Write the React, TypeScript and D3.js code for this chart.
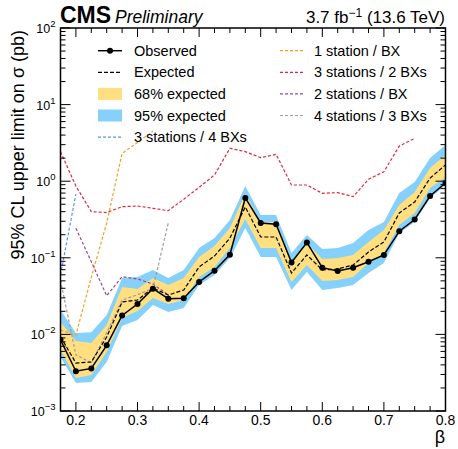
import React from "react";
import * as d3 from "d3";

const beta = [0.175, 0.2, 0.225, 0.25, 0.275, 0.3, 0.325, 0.35, 0.375, 0.4, 0.425, 0.45, 0.475, 0.5, 0.525, 0.55, 0.575, 0.6, 0.625, 0.65, 0.675, 0.7, 0.725, 0.75, 0.775, 0.8];
const observed = [0.0085, 0.0033, 0.0036, 0.0072, 0.0177, 0.0249, 0.0395, 0.0292, 0.0296, 0.0483, 0.0679, 0.110, 0.604, 0.285, 0.274, 0.0868, 0.158, 0.0743, 0.0673, 0.0743, 0.0889, 0.109, 0.222, 0.316, 0.641, 0.947];
const expected = [0.00933, 0.00423, 0.00436, 0.00925, 0.0265, 0.0281, 0.0403, 0.0327, 0.0380, 0.0759, 0.1055, 0.181, 0.461, 0.187, 0.187, 0.0633, 0.109, 0.0693, 0.0714, 0.0805, 0.119, 0.161, 0.385, 0.535, 1.10, 1.63];
const hi68 = [0.0145, 0.0082, 0.0077, 0.0133, 0.0416, 0.0392, 0.0545, 0.0442, 0.0545, 0.1024, 0.1426, 0.245, 0.681, 0.293, 0.293, 0.0881, 0.156, 0.0965, 0.0994, 0.109, 0.161, 0.231, 0.489, 0.723, 1.49, 2.20];
const lo68 = [0.00625, 0.0027, 0.00295, 0.00589, 0.0164, 0.0202, 0.0299, 0.0249, 0.0281, 0.0561, 0.0759, 0.134, 0.321, 0.134, 0.134, 0.0483, 0.0805, 0.0498, 0.0513, 0.0561, 0.0855, 0.1156, 0.268, 0.385, 0.815, 1.13];
const hi95 = [0.0208, 0.0104, 0.0107, 0.0179, 0.0545, 0.0561, 0.0693, 0.0545, 0.0693, 0.134, 0.181, 0.311, 0.866, 0.362, 0.362, 0.1156, 0.199, 0.130, 0.134, 0.156, 0.231, 0.293, 0.701, 0.976, 2.01, 2.97];
const lo95 = [0.00507, 0.00232, 0.00239, 0.00436, 0.0129, 0.0154, 0.0242, 0.0196, 0.0221, 0.0442, 0.0596, 0.0994, 0.245, 0.1024, 0.1024, 0.0380, 0.0653, 0.0380, 0.0403, 0.0442, 0.0633, 0.0855, 0.211, 0.293, 0.604, 0.892];

const betaRed = [0.175, 0.2, 0.225, 0.25, 0.275, 0.3, 0.325, 0.35, 0.375, 0.4, 0.425, 0.45, 0.475, 0.5, 0.525, 0.55, 0.575, 0.6, 0.625, 0.65, 0.675, 0.7, 0.725, 0.75];
const red3st2bx = [2.43, 0.865, 0.40, 0.39, 0.465, 0.474, 0.443, 0.412, 0.58, 0.83, 1.205, 2.69, 2.43, 2.03, 2.24, 0.892, 0.892, 0.695, 0.71, 0.628, 1.06, 1.33, 2.88, 3.63];
const betaOrange = [0.175, 0.2, 0.225, 0.25, 0.275, 0.3, 0.325];
const orange1st1bx = [0.0114, 0.0098, 0.0556, 0.285, 2.31, 3.2, 4.5];
const betaBlue = [0.175, 0.2];
const blue3st4bx = [0.06, 0.68];
const betaPurple = [0.2, 0.225, 0.25, 0.275, 0.3, 0.325, 0.35];
const purple2st1bx = [0.243, 0.089, 0.032, 0.0567, 0.0529, 0.0455, 0.0327];
const betaGrey = [0.175, 0.2, 0.225, 0.25, 0.275, 0.3, 0.325, 0.35];
const grey4st3bx = [0.051, 0.0054, 0.00427, 0.0105, 0.0281, 0.033, 0.040, 0.285];

const xTicks = [0.2, 0.3, 0.4, 0.5, 0.6, 0.7, 0.8];
const yDecades = [-3, -2, -1, 0, 1, 2];

const W = 458, H = 449;
const L = 60.5, R = 445.5, T = 28, B = 411;
const FONT = "'Liberation Sans', Arial, Helvetica, sans-serif";
const C_Y = "#FFDF7F", C_B = "#85D1FB";
const C_RED = "#e42536", C_OR = "#f89c20", C_BL = "#5790fc", C_PU = "#964a8b", C_GR = "#9c9ca1";

export default function App() {
  const x = d3.scaleLinear().domain([0.175, 0.8]).range([L, R]);
  const y = d3.scaleLog().domain([1e-3, 1e2]).range([B, T]);
  const line = d3.line<[number, number]>().x(d => x(d[0])).y(d => y(d[1]));
  const area = (lo: number[], hi: number[]) =>
    d3.area<number>().x((_, i) => x(beta[i])).y0((_, i) => y(lo[i])).y1((_, i) => y(hi[i]))(beta) || "";
  const pts = (bs: number[], vs: number[]) => bs.map((b, i) => [b, vs[i]] as [number, number]);

  const xMinor: number[] = d3.range(0.175, 0.8001, 0.025);
  const yMinor: number[] = [];
  for (let e = -3; e < 2; e++) for (let m = 2; m <= 9; m++) yMinor.push(m * Math.pow(10, e));

  const dashCol = "3,2";
  const legRows = [50.7, 72.3, 93.9, 115.5, 137.1];
  const lx0 = 98, lx1 = 122, ltx = 134;
  const rx0 = 280, rx1 = 304, rtx = 314;
  const LFS = 14.5;

  return (
    <svg width={W} height={H} style={{ position: "absolute", left: 0, top: 0, background: "#fff" }} fontFamily={FONT}>
      <defs>
        <clipPath id="plot"><rect x={L} y={T} width={R - L} height={B - T} /></clipPath>
      </defs>
      <g clipPath="url(#plot)">
        <path d={area(lo95, hi95)} fill={C_B} />
        <path d={area(lo68, hi68)} fill={C_Y} />
        <path d={line(pts(betaRed, red3st2bx)) || ""} fill="none" stroke={C_RED} strokeWidth={1.2} strokeDasharray={dashCol} />
        <path d={line(pts(betaOrange, orange1st1bx)) || ""} fill="none" stroke={C_OR} strokeWidth={1.2} strokeDasharray={dashCol} />
        <path d={line(pts(betaBlue, blue3st4bx)) || ""} fill="none" stroke={C_BL} strokeWidth={1.2} strokeDasharray={dashCol} />
        <path d={line(pts(betaPurple, purple2st1bx)) || ""} fill="none" stroke={C_PU} strokeWidth={1.2} strokeDasharray={dashCol} />
        <path d={line(pts(betaGrey, grey4st3bx)) || ""} fill="none" stroke={C_GR} strokeWidth={1.2} strokeDasharray={dashCol} />
        <path d={line(pts(beta, expected)) || ""} fill="none" stroke="#000" strokeWidth={1.2} strokeDasharray="4,2" />
        <path d={line(pts(beta, observed)) || ""} fill="none" stroke="#000" strokeWidth={1.5} />
        {beta.map((b, i) => <circle key={i} cx={x(b)} cy={y(observed[i])} r={3} fill="#000" />)}
      </g>

      {/* frame */}
      <rect x={L} y={T} width={R - L} height={B - T} fill="none" stroke="#000" strokeWidth={1.5} />
      {/* x ticks */}
      {xMinor.map((v, i) => {
        const major = xTicks.some(t => Math.abs(t - v) < 1e-6);
        const len = major ? 9 : 5;
        return (
          <g key={"xm" + i}>
            <line x1={x(v)} x2={x(v)} y1={B} y2={B - len} stroke="#000" strokeWidth={1} />
            <line x1={x(v)} x2={x(v)} y1={T} y2={T + len} stroke="#000" strokeWidth={1} />
          </g>
        );
      })}
      {xTicks.map(t => (
        <text key={"xl" + t} x={x(t)} y={425} fontSize={14} textAnchor="middle">{t.toFixed(1)}</text>
      ))}
      {/* y ticks */}
      {yDecades.map(e => (
        <g key={"yd" + e}>
          <line x1={L} x2={L + 10} y1={y(Math.pow(10, e))} y2={y(Math.pow(10, e))} stroke="#000" strokeWidth={1} />
          <line x1={R} x2={R - 10} y1={y(Math.pow(10, e))} y2={y(Math.pow(10, e))} stroke="#000" strokeWidth={1} />
          <text x={55.5} y={y(Math.pow(10, e)) + 5} fontSize={12.5} textAnchor="end">
            <tspan>10</tspan>
            <tspan dy={-6} fontSize={9.5}>{e < 0 ? "\u2212" + Math.abs(e) : String(e)}</tspan>
          </text>
        </g>
      ))}
      {yMinor.map((v, i) => (
        <g key={"ym" + i}>
          <line x1={L} x2={L + 5} y1={y(v)} y2={y(v)} stroke="#000" strokeWidth={1} />
          <line x1={R} x2={R - 5} y1={y(v)} y2={y(v)} stroke="#000" strokeWidth={1} />
        </g>
      ))}

      {/* axis titles */}
      <text x={445} y={443} fontSize={18} textAnchor="end">β</text>
      <text transform="translate(24,30) rotate(-90)" fontSize={18} textAnchor="end">95% CL upper limit on σ (pb)</text>

      {/* header */}
      <text x={60} y={23} fontSize={23} fontWeight="bold">CMS</text>
      <text x={115} y={23} fontSize={17.5} fontStyle="italic">Preliminary</text>
      <text x={445} y={23} fontSize={17} textAnchor="end">
        <tspan>3.7 fb</tspan>
        <tspan dy={-6} fontSize={12}>{"\u22121"}</tspan>
        <tspan dy={6}> (13.6 TeV)</tspan>
      </text>

      {/* legend left */}
      <line x1={lx0} x2={lx1} y1={legRows[0]} y2={legRows[0]} stroke="#000" strokeWidth={1.5} />
      <circle cx={(lx0 + lx1) / 2} cy={legRows[0]} r={3} fill="#000" />
      <line x1={lx0} x2={lx1} y1={legRows[1]} y2={legRows[1]} stroke="#000" strokeWidth={1.2} strokeDasharray="4,2" />
      <rect x={lx0} y={legRows[2] - 6} width={lx1 - lx0} height={12} fill={C_Y} />
      <rect x={lx0} y={legRows[3] - 6} width={lx1 - lx0} height={12} fill={C_B} />
      <line x1={lx0} x2={lx1} y1={legRows[4]} y2={legRows[4]} stroke={C_BL} strokeWidth={1.2} strokeDasharray={dashCol} />
      {["Observed", "Expected", "68% expected", "95% expected", "3 stations / 4 BXs"].map((s, i) => (
        <text key={"ll" + i} x={ltx} y={legRows[i] + 5} fontSize={LFS}>{s}</text>
      ))}
      {/* legend right */}
      {[C_OR, C_RED, C_PU, C_GR].map((c, i) => (
        <line key={"rl" + i} x1={rx0} x2={rx1} y1={legRows[i]} y2={legRows[i]} stroke={c} strokeWidth={1.2} strokeDasharray={dashCol} />
      ))}
      {["1 station / BX", "3 stations / 2 BXs", "2 stations / BX", "4 stations / 3 BXs"].map((s, i) => (
        <text key={"rt" + i} x={rtx} y={legRows[i] + 5} fontSize={LFS}>{s}</text>
      ))}
    </svg>
  );
}
